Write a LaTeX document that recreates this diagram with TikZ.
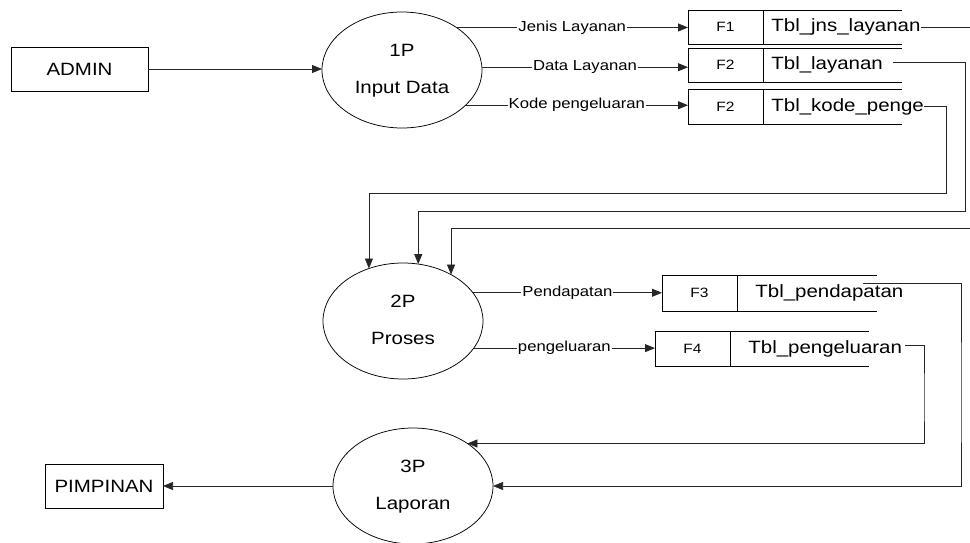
\documentclass[tikz,border=0pt]{standalone}
\usepackage{fontspec}
\setmainfont{Liberation Sans}[FakeStretch=1.15]
\usetikzlibrary{arrows.meta,shapes.geometric}
\begin{document}
\begin{tikzpicture}[x=1pt,y=-1pt,
  line width=0.75pt,
  ent/.style={draw, rectangle, inner sep=0pt, outer sep=0pt, font=\fontsize{17.8}{20}\selectfont},
  proc/.style={draw, ellipse, inner sep=0pt, outer sep=0pt, minimum width=160pt, minimum height=116pt},
  ptext/.style={anchor=base, inner sep=0pt, font=\fontsize{17.8}{20}\selectfont},
  fbox/.style={draw, rectangle, inner sep=0pt, outer sep=0pt, minimum width=75pt, font=\fontsize{13.5}{15}\selectfont},
  tbl/.style={anchor=west, inner sep=0pt, font=\fontsize{17.8}{20}\selectfont},
  flow/.style={draw=black!85, -{Triangle[length=10pt,width=8pt]}},
  lbl/.style={fill=white, inner sep=1pt, font=\fontsize{14.5}{16}\selectfont},
]
\useasboundingbox (0,0) rectangle (970,543);
\clip (0,0) rectangle (970,543);

% external entities
\node[ent, minimum width=137pt, minimum height=44pt] (admin) at (79.5,69) {ADMIN};
\node[ent, minimum width=118pt, minimum height=44pt] (pim) at (104,486) {PIMPINAN};

% processes
\node[proc] (p1) at (402,70) {};
\node[ptext] (p1a) at ([yshift=13.5pt]p1.center) {1P};
\node[ptext] (p1b) at ([yshift=-23.5pt]p1.center) {Input Data};

\node[proc] (p2) at (403,321) {};
\node[ptext] (p2a) at ([yshift=13.5pt]p2.center) {2P};
\node[ptext] (p2b) at ([yshift=-23.5pt]p2.center) {Proses};

\node[proc] (p3) at (413,486) {};
\node[ptext] (p3a) at ([yshift=13.5pt]p3.center) {3P};
\node[ptext] (p3b) at ([yshift=-23.5pt]p3.center) {Laporan};

% data stores
\node[fbox, minimum height=34pt] (f1) at (725.5,27) {F1};
\draw (f1.north east) -- ++(139,0) (f1.south east) -- ++(139,0);
\node[tbl] (t1) at ([xshift=8pt]f1.east) {Tbl\_jns\_layanan};

\node[fbox, minimum height=34pt] (f2) at (725.5,65) {F2};
\draw (f2.north east) -- ++(139,0) (f2.south east) -- ++(139,0);
\node[tbl] (t2) at ([xshift=8pt]f2.east) {Tbl\_layanan};

\node[fbox, minimum height=35pt] (f2b) at (725.5,106.5) {F2};
\draw (f2b.north east) -- ++(139,0) (f2b.south east) -- ++(139,0);
\node[tbl] (t2b) at ([xshift=8pt]f2b.east) {Tbl\_kode\_penge};

\node[fbox, minimum height=36pt] (f3) at (699.5,293) {F3};
\draw (f3.north east) -- ++(140,0) (f3.south east) -- ++(140,0);
\node[tbl] (t3) at ([xshift=18pt]f3.east) {Tbl\_pendapatan};

\node[fbox, minimum height=35pt] (f4) at (692.5,348.5) {F4};
\draw (f4.north east) -- ++(139,0) (f4.south east) -- ++(139,0);
\node[tbl] (t4) at ([xshift=18pt]f4.east) {Tbl\_pengeluaran};

% flows
\draw[flow] (admin.east) -- (admin.east -| p1.west);
\draw[flow] (p1.38.7) -- node[lbl] (l1) {Jenis Layanan} (p1.38.7 -| f1.west);
\draw[flow] (p1.2) -- node[lbl] (l2) {Data Layanan} (p1.2 -| f2.west);
\draw[flow] (p1.-29.9) -- node[lbl] (l3) {Kode pengeluaran} (p1.-29.9 -| f2b.west);
\draw[flow] (p2.22.7) -- node[lbl] (l4) {Pendapatan} (p2.22.7 -| f3.west);
\draw[flow] (p2.-21.8) -- node[lbl] (l5) {pengeluaran} (p2.-21.8 -| f4.west);
\draw[flow] (p3.west) -- (pim.east);

% routed flows into 2P
\coordinate (r1) at (946,193);
\coordinate (r2) at (965,211);
\coordinate (r0a) at (985,25);
\coordinate (r0b) at (985,228);
\draw[flow] (t2b.east) -| (r1) -| (p2.123.9);
\draw[flow] ([xshift=10pt,yshift=3pt]t2.east) -| (r2) -| (p2.75.2);
\draw[flow] (t1.east) -- (t1.east -| r0a) |- (r0b) -| (p2.44.9);

% routed flows into 3P
\coordinate (s3) at (863,283);
\coordinate (r3) at (961,400);
\coordinate (r4) at (924,400);
\draw[flow] (s3) -| (r3) |- (p3.east);
\draw[flow] ([xshift=3pt,yshift=3pt]t4.east) -| (r4) |- (p3.38.7);
\end{tikzpicture}
\end{document}
